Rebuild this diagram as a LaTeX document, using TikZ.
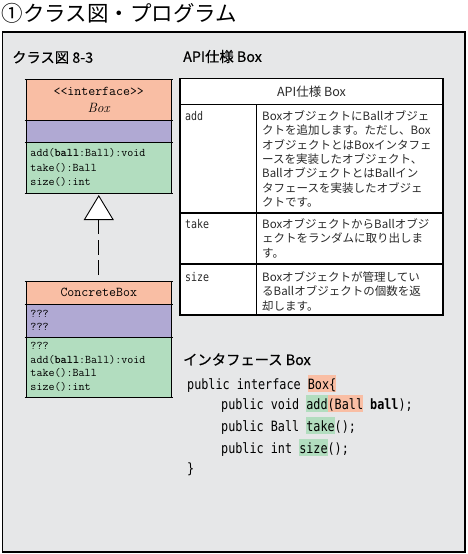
\documentclass[tikz,border=0pt]{standalone}
\usepackage{fontspec}
\newfontfamily\jpfont{Noto Sans CJK JP}
\newfontfamily\jpheadfont[FakeBold=0.4]{Noto Sans CJK JP}
\newfontfamily\codefont[FakeStretch=0.83]{DejaVu Sans Mono}
\usetikzlibrary{arrows.meta}
\definecolor{panelgray}{HTML}{E6E7E8}
\definecolor{headsalmon}{HTML}{F9BEA4}
\definecolor{attrpurple}{HTML}{B0A9D3}
\definecolor{methgreen}{HTML}{B2DDBF}
\definecolor{inkgray}{HTML}{2A2A2A}
\newcommand{\codehl}[2]{{\setlength{\fboxsep}{0pt}\colorbox{#1}{\rule[-2.5pt]{0pt}{17pt}#2}}}

\begin{document}
\begin{tikzpicture}[x=1pt,y=-1pt,
        umlpart/.style={draw=black,line width=0.9pt,anchor=north west,text width=136.5pt,inner xsep=4.5pt,inner ysep=0pt,outer sep=0pt,align=left,font=\ttfamily\fontsize{11.7}{14.2}\selectfont},
        umlhead/.style={umlpart,fill=headsalmon,align=center,font=\ttfamily\fontsize{13.5}{17}\selectfont},
        umlattr/.style={umlpart,fill=attrpurple},
        umlmeth/.style={umlpart,fill=methgreen},
        heading/.style={anchor=west,inner sep=0pt,font=\jpheadfont\fontsize{14.3}{17}\selectfont},
        cellkey/.style={anchor=west,inner sep=0pt,text=inkgray,font=\codefont\fontsize{12}{14}\selectfont},
        cell/.style={anchor=north west,inner sep=0pt,align=left,text=inkgray,font=\jpfont\fontsize{11.5}{14.3}\selectfont},
        code/.style={anchor=base west,inner sep=0pt,font=\codefont\fontsize{14.2}{17}\selectfont}]
        \useasboundingbox (0,0) rectangle (467,554);
        \node[anchor=west,inner sep=0pt,font=\jpfont\fontsize{21.5}{24}\selectfont] (title) at (1.5,13.5) {①クラス図・プログラム};
        \draw[line width=1.2pt,fill=panelgray] (2.5,32) rectangle (465,552);
        \node[heading] (classhd) at (12,57.5) {クラス図 8-3};
        \node[heading] (apihd) at (183,56.5) {API仕様 Box};

        \node[umlhead,minimum height=41pt] (boxhead) at (26,79) {<<interface>>\\{\rmfamily\itshape Box}};
        \node[umlattr,minimum height=22pt] (boxattr) at (26,120) {};
        \node[umlmeth,minimum height=51pt] (boxmeth) at (26,142) {add(\textbf{ball}:Ball):void\\take():Ball\\size():int};
        \node[umlhead,minimum height=23pt] (cbhead) at (26,281) {ConcreteBox};
        \node[umlattr,minimum height=33pt,font=\ttfamily\fontsize{11.7}{12.5}\selectfont] (cbattr) at (26,304) {???\\???};
        \node[umlmeth,minimum height=60pt,font=\ttfamily\fontsize{11.7}{13.6}\selectfont] (cbmeth) at (26,337) {???\\add(\textbf{ball}:Ball):void\\take():Ball\\size():int};
        \foreach \part in {boxhead,boxattr,boxmeth,cbhead,cbattr,cbmeth}
            \draw[line width=0.9pt] ([xshift=-1.5pt]\part.north west) -- ([xshift=1.5pt]\part.north east);
        \foreach \part in {boxmeth,cbmeth}
            \draw[line width=0.9pt] ([xshift=-1.5pt]\part.south west) -- ([xshift=1.5pt]\part.south east);
        \draw[line width=0.9pt,dash pattern=on 15pt off 5.5pt,shorten <=6pt,shorten >=2pt,-{Triangle[width=30pt,length=25pt,fill=white]}] (cbhead.north) -- (boxmeth.south);

        \draw[line width=1.1pt,fill=white] (180,78.5) rectangle (443,315);
        \draw[line width=1.1pt] (180,104.5) -- (443,104.5) (180,213) -- (443,213) (180,264) -- (443,264) (256.5,104.5) -- (256.5,315);
        \node[inner sep=0pt,text=inkgray,font=\jpfont\fontsize{12.5}{15}\selectfont] (apititle) at (311.5,91.5) {API仕様 Box};
        \node[cellkey] (addkey) at (185,116) {add};
        \node[cellkey] (takekey) at (185,224) {take};
        \node[cellkey] (sizekey) at (185,277) {size};
        \node[cell] (adddesc) at (262,110.5) {BoxオブジェクトにBallオブジェ\\クトを追加します。ただし、Box\\オブジェクトとはBoxインタフェ\\ースを実装したオブジェクト、\\BallオブジェクトとはBallイン\\タフェースを実装したオブジェ\\クトです。};
        \node[cell] (takedesc) at (262,218.5) {BoxオブジェクトからBallオブジ\\ェクトをランダムに取り出しま\\す。};
        \node[cell] (sizedesc) at (262,271.5) {Boxオブジェクトが管理してい\\るBallオブジェクトの個数を返\\却します。};

        \node[heading] (ifhd) at (183,359.5) {インタフェース Box};
        \node[code] (codeA) at (187,389) {public interface \codehl{headsalmon}{Box\{}};
        \node[code] (codeB) at (221,409) {public void \codehl{methgreen}{add}\codehl{headsalmon}{(Ball} \textbf{ball});};
        \node[code] (codeC) at (221,431.5) {public Ball \codehl{methgreen}{take}();};
        \node[code] (codeD) at (221,453) {public int \codehl{methgreen}{size}();};
        \node[code] (codeE) at (187,473) {\}};
\end{tikzpicture}
\end{document}
